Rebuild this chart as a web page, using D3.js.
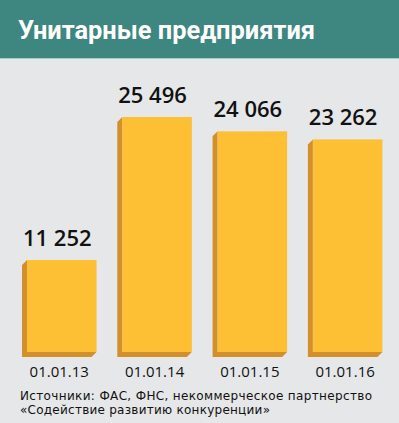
<!DOCTYPE html>
<html>
<head>
<meta charset="utf-8">
<script src="https://cdn.jsdelivr.net/npm/d3@7"></script>
<style>
  html, body { margin: 0; padding: 0; background: #e6e7e8; }
  svg { display: block; }
</style>
</head>
<body>
<div id="chart"></div>
<script>
// Unitary enterprises by date
const dates = ["01.01.13", "01.01.14", "01.01.15", "01.01.16"];
const counts = [11252, 25496, 24066, 23262];
const valueLabels = ["11 252", "25 496", "24 066", "23 262"];
const sourceLines = [
  "Источники: ФАС, ФНС, некоммерческое партнерство",
  "«Содействие развитию конкуренции»"
];

const width = 399;
const height = 423;
const baseline = 352;
const depth = 5;

const svg = d3.select("#chart")
  .append("svg")
  .attr("width", width)
  .attr("height", height)
  .style("background", "#e6e7e8");

// Header band
svg.append("rect")
  .attr("x", 0).attr("y", 0)
  .attr("width", width).attr("height", 58)
  .attr("fill", "#3e8680");

svg.append("rect")
  .attr("x", 0).attr("y", 58)
  .attr("width", width).attr("height", 1)
  .attr("fill", "#a9cbc8");

svg.append("text")
  .attr("x", 18)
  .attr("y", 39)
  .attr("fill", "#ffffff")
  .attr("textLength", 297)
  .attr("lengthAdjust", "spacingAndGlyphs")
  .style("font-family", "Roboto, sans-serif")
  .style("font-size", "26px")
  .style("font-weight", "bold")
  .text("Унитарные предприятия");

// Scales (axis is not zero based in the original)
const xScale = d3.scaleBand()
  .domain(dates)
  .range([22, 382.4])
  .paddingInner(0.218)
  .paddingOuter(0);

const yScale = d3.scaleLinear()
  .domain([0, 25496])
  .range([373, 117]);

const bars = svg.selectAll("g.bar")
  .data(dates.map((d, i) => ({ date: d, value: counts[i], label: valueLabels[i] })))
  .enter()
  .append("g")
  .attr("class", "bar");

// Side / bottom extrusion
bars.append("path")
  .attr("fill", "#d38f2b")
  .attr("d", d => {
    const x0 = xScale(d.date) + depth;
    const x1 = x0 + xScale.bandwidth() - depth;
    const y0 = yScale(d.value);
    return `M${x0},${y0} L${x0 - depth},${y0 + depth} L${x0 - depth},${baseline + depth} ` +
      `L${x1 - depth},${baseline + depth} L${x1},${baseline} L${x0},${baseline} Z`;
  });

// Front face
bars.append("rect")
  .attr("fill", "#fdbf33")
  .attr("x", d => xScale(d.date) + depth)
  .attr("y", d => yScale(d.value))
  .attr("width", xScale.bandwidth() - depth)
  .attr("height", d => baseline - yScale(d.value));

// Value labels
bars.append("text")
  .attr("x", d => xScale(d.date) + xScale.bandwidth() / 2 - 2)
  .attr("y", d => yScale(d.value) - 14)
  .attr("text-anchor", "middle")
  .attr("fill", "#111111")
  .style("font-family", "'Open Sans', sans-serif")
  .style("font-size", "22px")
  .style("font-weight", 600)
  .text(d => d.label);

// Category labels
bars.append("text")
  .attr("x", d => xScale(d.date) + xScale.bandwidth() / 2)
  .attr("y", 377)
  .attr("text-anchor", "middle")
  .attr("fill", "#111111")
  .style("font-family", "'Open Sans', sans-serif")
  .style("font-size", "15px")
  .text(d => d.date);

// Source note, stretched a little to the original line widths
const sourceWidths = [352, 250];
svg.selectAll("text.source")
  .data(sourceLines)
  .enter()
  .append("text")
  .attr("class", "source")
  .attr("x", 20)
  .attr("y", (d, i) => 400 + i * 14)
  .attr("textLength", (d, i) => sourceWidths[i])
  .attr("lengthAdjust", "spacing")
  .attr("fill", "#111111")
  .style("font-family", "'DejaVu Sans', sans-serif")
  .style("font-size", "12px")
  .text(d => d);
</script>
</body>
</html>
